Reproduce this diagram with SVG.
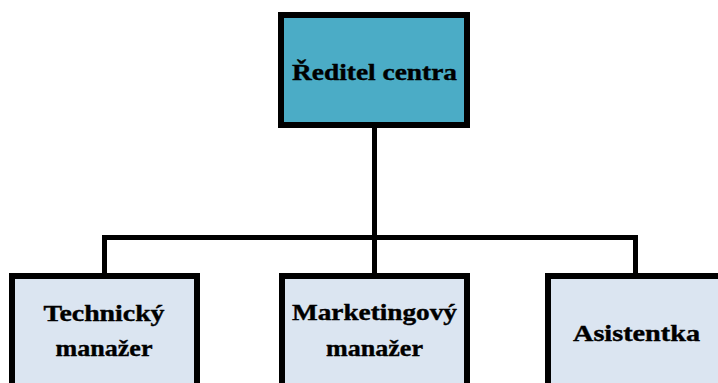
<svg xmlns="http://www.w3.org/2000/svg" width="718" height="383" viewBox="0 0 718 383">
<style>
.box{stroke:#000;stroke-width:6}
.top{fill:#4BACC6}
.sub{fill:#DBE5F1}
.lbl{font-family:'Liberation Serif','DejaVu Serif',serif;font-weight:700;font-size:24px;fill:#000;text-anchor:middle;stroke:#000;stroke-width:0.4}
.conn{fill:none;stroke:#000;stroke-width:5;stroke-linejoin:miter}
</style>
<rect x="0" y="0" width="718" height="383" fill="#fff"/>
<g id="connectors">
<path class="conn" d="M104.5 274 V237.5 H635.5 V274"/>
<path class="conn" d="M374.5 127 V274"/>
</g>
<g id="reditel">
<rect class="box top" x="281" y="15" width="186" height="110"/>
<text class="lbl" x="374.5" y="80" textLength="165" lengthAdjust="spacingAndGlyphs">Ředitel centra</text>
</g>
<g id="technicky">
<rect class="box sub" x="12" y="276" width="185" height="130"/>
<text class="lbl" x="104" y="321" textLength="121" lengthAdjust="spacingAndGlyphs">Technický</text>
<text class="lbl" x="104" y="356" textLength="97" lengthAdjust="spacingAndGlyphs">manažer</text>
</g>
<g id="marketingovy">
<rect class="box sub" x="282" y="276" width="185" height="130"/>
<text class="lbl" x="374.5" y="320" textLength="165" lengthAdjust="spacingAndGlyphs">Marketingový</text>
<text class="lbl" x="374.5" y="356" textLength="97" lengthAdjust="spacingAndGlyphs">manažer</text>
</g>
<g id="asistentka">
<rect class="box sub" x="548" y="276" width="200" height="130"/>
<text class="lbl" x="636.5" y="341" textLength="127" lengthAdjust="spacingAndGlyphs">Asistentka</text>
</g>
</svg>
